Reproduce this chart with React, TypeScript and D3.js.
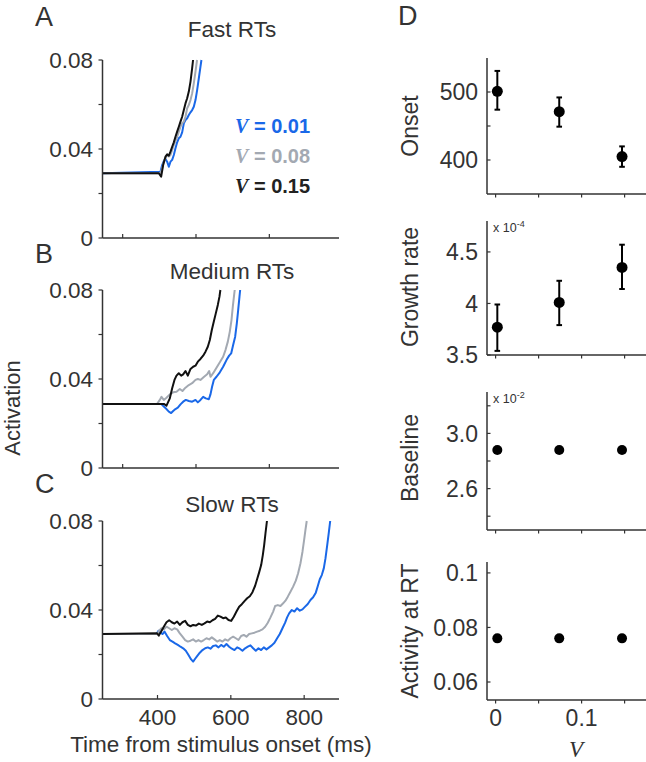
import React from 'react';
import * as d3 from 'd3';

type P = [number, number];

const BLUE = '#1a68e8';
const GRAY = '#a3a9b2';
const BLACK = '#111111';
const AX = '#333333';
const SANS = '"Liberation Sans", Arial, Helvetica, sans-serif';
const SERIF = '"Liberation Serif", "Times New Roman", serif';

// ---------- Panel A: Fast RTs ----------
const fastBlue: P[] = [[250,0.0291],[408.1,0.0298],[412.7,0.0328],[417.2,0.0346],[421.8,0.0355],[426.3,0.0343],[430.9,0.0320],[435.4,0.0343],[440,0.0351],[444.5,0.0373],[449,0.0403],[453.6,0.0430],[458.1,0.0448],[462.7,0.0455],[467.2,0.0475],[471.8,0.0515],[476.3,0.0530],[480.9,0.0538],[485.4,0.0553],[490,0.0565],[494.5,0.0575],[499,0.0590],[503.6,0.0620],[508.1,0.0665],[512.7,0.0718],[517.2,0.0770],[519.8,0.0800]];
const fastGray: P[] = [[250,0.0291],[408.1,0.0291],[412.7,0.0313],[417.2,0.0343],[421.8,0.0358],[426.3,0.0373],[430.9,0.0366],[435.4,0.0373],[440,0.0396],[444.5,0.0418],[449,0.0436],[453.6,0.0455],[458.1,0.0478],[462.7,0.0500],[467.2,0.0515],[471.8,0.0523],[476.3,0.0545],[480.9,0.0583],[485.4,0.0598],[490,0.0620],[494.5,0.0650],[499,0.0695],[503.6,0.0748],[507.8,0.0800]];
const fastBlack: P[] = [[250,0.0291],[403.6,0.0291],[410,0.0276],[415.4,0.0328],[421.8,0.0366],[426.3,0.0376],[430.9,0.0370],[435.4,0.0388],[440,0.0410],[444.5,0.0430],[449,0.0455],[453.6,0.0478],[458.1,0.0500],[462.7,0.0523],[467.2,0.0545],[471.8,0.0575],[476.3,0.0605],[480.9,0.0628],[485.4,0.0658],[490,0.0703],[494.5,0.0763],[497,0.0800]];

// ---------- Panel B: Medium RTs ----------
const medBlue: P[] = [[250,0.0288],[410,0.0288],[417.2,0.0276],[424.5,0.0265],[430.9,0.0253],[437.2,0.0247],[442.7,0.0256],[449,0.0265],[455.4,0.0271],[462.7,0.0286],[470,0.0298],[477.2,0.0306],[485.4,0.0301],[494.5,0.0298],[503.6,0.0306],[510,0.0295],[517.2,0.0306],[524.5,0.0320],[531.8,0.0313],[540,0.0309],[544.5,0.0331],[549,0.0366],[553.6,0.0396],[560.9,0.0410],[570,0.0430],[579,0.0455],[588.1,0.0485],[595.4,0.0505],[600.9,0.0515],[606.3,0.0553],[611.8,0.0590],[616.3,0.0650],[620,0.0710],[623.6,0.0770],[625.4,0.0800]];
const medGray: P[] = [[250,0.0288],[399,0.0288],[406.3,0.0306],[410.9,0.0320],[417.2,0.0306],[424.5,0.0316],[433.6,0.0331],[442.7,0.0340],[451.8,0.0343],[460.9,0.0355],[468.1,0.0346],[476.3,0.0361],[485.4,0.0373],[494.5,0.0381],[503.6,0.0396],[510,0.0400],[517.2,0.0396],[526.3,0.0409],[535.4,0.0421],[540.9,0.0436],[544.5,0.0410],[551.8,0.0426],[560.9,0.0451],[570,0.0475],[579,0.0500],[585.4,0.0530],[591.8,0.0568],[597.2,0.0613],[601.8,0.0665],[605.4,0.0725],[609,0.0778],[610.6,0.0800]];
const medBlack: P[] = [[250,0.0288],[417.2,0.0288],[424.5,0.0280],[433.6,0.0313],[440,0.0358],[446.3,0.0396],[451.8,0.0415],[458.1,0.0426],[464.5,0.0415],[470,0.0421],[476.3,0.0436],[482.7,0.0415],[490,0.0445],[497.2,0.0455],[503.6,0.0460],[510,0.0478],[517.2,0.0490],[524.5,0.0505],[530.9,0.0523],[537.2,0.0545],[542.7,0.0575],[548.1,0.0620],[553.6,0.0658],[559,0.0695],[564.5,0.0733],[569,0.0770],[571.5,0.0800]];

// ---------- Panel C: Slow RTs ----------
const slowBlue: P[] = [[250,0.0292],[397.2,0.0292],[402.7,0.0307],[408.1,0.0298],[413.6,0.0292],[419,0.0303],[426.3,0.0283],[433.6,0.0265],[440.8,0.0258],[448.1,0.0250],[455.4,0.0243],[462.7,0.0235],[470,0.0228],[477.2,0.0217],[484.5,0.0198],[491.7,0.0178],[497.2,0.0168],[502.7,0.0181],[508.1,0.0193],[515.4,0.0208],[522.7,0.0220],[530,0.0228],[537.2,0.0232],[544.5,0.0226],[551.7,0.0238],[559,0.0241],[566.3,0.0232],[573.5,0.0243],[580.8,0.0235],[588.1,0.0247],[595.4,0.0235],[602.7,0.0226],[609.9,0.0220],[617.2,0.0232],[624.5,0.0226],[631.7,0.0217],[639,0.0228],[646.3,0.0235],[653.5,0.0241],[660.8,0.0228],[668.1,0.0217],[675.4,0.0228],[682.6,0.0220],[689.9,0.0232],[697.2,0.0223],[704.5,0.0232],[711.7,0.0241],[719,0.0253],[726.3,0.0273],[733.5,0.0292],[740.8,0.0318],[748.1,0.0343],[753.5,0.0367],[759,0.0385],[766.3,0.0400],[773.5,0.0393],[780.8,0.0408],[788.1,0.0397],[795.4,0.0403],[802.6,0.0415],[809.9,0.0427],[817.2,0.0445],[824.4,0.0457],[831.7,0.0478],[837.2,0.0508],[842.6,0.0538],[848.1,0.0557],[853.5,0.0587],[858.1,0.0632],[862.6,0.0688],[867.2,0.0748],[871,0.0800]];
const slowGray: P[] = [[250,0.0292],[399,0.0292],[404.5,0.0307],[410.9,0.0318],[417.2,0.0313],[424.5,0.0325],[431.8,0.0318],[439,0.0310],[446.3,0.0318],[453.6,0.0313],[460.9,0.0295],[468.1,0.0280],[475.4,0.0265],[482.7,0.0258],[490,0.0262],[497.2,0.0268],[504.5,0.0258],[511.7,0.0265],[519,0.0258],[526.3,0.0265],[533.6,0.0273],[540.9,0.0268],[548.1,0.0277],[555.4,0.0268],[562.7,0.0258],[570,0.0265],[577.2,0.0258],[584.5,0.0268],[591.8,0.0262],[599,0.0273],[606.3,0.0280],[613.6,0.0273],[620.8,0.0265],[628.1,0.0283],[635.4,0.0288],[642.6,0.0280],[649.9,0.0292],[657.2,0.0295],[664.5,0.0298],[671.7,0.0303],[679,0.0307],[686.3,0.0313],[693.6,0.0325],[700.8,0.0343],[708.1,0.0367],[715.4,0.0393],[720.8,0.0418],[728.1,0.0422],[735.4,0.0418],[742.6,0.0430],[749,0.0442],[755.4,0.0460],[762.6,0.0482],[769.9,0.0505],[777.2,0.0532],[783.5,0.0565],[789.9,0.0610],[795.4,0.0662],[799.9,0.0715],[803.5,0.0760],[807,0.0800]];
const slowBlack: P[] = [[250,0.0292],[399,0.0295],[403.6,0.0285],[410,0.0303],[417.2,0.0325],[424.5,0.0345],[431.8,0.0354],[439,0.0345],[446.3,0.0339],[453.6,0.0348],[460.9,0.0333],[468.1,0.0345],[475.4,0.0351],[482.7,0.0333],[490,0.0327],[497.2,0.0333],[504.5,0.0330],[512.7,0.0339],[520.9,0.0333],[528.1,0.0340],[535.4,0.0348],[542.7,0.0345],[550,0.0354],[557.2,0.0360],[564.5,0.0375],[571.8,0.0370],[579,0.0363],[586.3,0.0366],[593.6,0.0355],[600.9,0.0351],[608.1,0.0370],[615.4,0.0393],[622.7,0.0415],[630,0.0426],[637.2,0.0440],[644.5,0.0453],[651.8,0.0462],[659,0.0480],[666.3,0.0509],[671.8,0.0539],[677.2,0.0569],[682.7,0.0602],[687.2,0.0647],[690.9,0.0692],[694.5,0.0745],[697.2,0.0782],[698.5,0.0800]];

// ---------- Panel D ----------
const vValues = [0.002, 0.074, 0.147];
const onsetMean = [501, 471, 405];
const onsetLo = [474, 449, 390];
const onsetHi = [531, 492, 420];
const growthMean = [3.77, 4.01, 4.35];
const growthLo = [3.54, 3.79, 4.14];
const growthHi = [3.99, 4.22, 4.57];
const baselineMean = [2.88, 2.88, 2.88];
const activityMean = [0.076, 0.076, 0.076];

const leftYTicks = [0, 0.02, 0.04, 0.06, 0.08];
const leftYLabels: Record<string, string> = { '0': '0', '0.04': '0.04', '0.08': '0.08' };
const abXTicks = [305, 505, 705];
const cXTicks = [400, 600, 800];
const rightXTicks = [0, 0.05, 0.1, 0.15];
const rightXLabels: Record<string, string> = { '0': '0', '0.1': '0.1' };
const legendItems = [
  { label: ' = 0.01', color: BLUE },
  { label: ' = 0.08', color: GRAY },
  { label: ' = 0.15', color: '#222222' },
];

const tScale = d3.scaleLinear().domain([250, 895]).range([102.5, 339]);
const vScaleX = d3.scaleLinear().domain([-0.01, 0.18]).range([487, 650.4]);

const leftPanels = [
  { letter: 'A', letterY: 26, title: 'Fast RTs', titleY: 37, top: 60, bottom: 238, xTicks: abXTicks, labels: false, lines: [fastBlue, fastGray, fastBlack] },
  { letter: 'B', letterY: 263, title: 'Medium RTs', titleY: 279, top: 290, bottom: 468, xTicks: abXTicks, labels: false, lines: [medBlue, medGray, medBlack] },
  { letter: 'C', letterY: 493, title: 'Slow RTs', titleY: 512, top: 521, bottom: 699, xTicks: cXTicks, labels: true, lines: [slowBlue, slowGray, slowBlack] },
];

type RP = {
  label: string; labelY: number; domain: [number, number]; range: [number, number];
  ticks: number[]; tickLabels: Record<string, string>;
  mean: number[]; lo?: number[]; hi?: number[]; exp?: string; r: number; xLabels?: boolean;
};

const rightPanels: RP[] = [
  { label: 'Onset', labelY: 126, domain: [350, 550], range: [194, 58], ticks: [400, 450, 500], tickLabels: { '400': '400', '500': '500' }, mean: onsetMean, lo: onsetLo, hi: onsetHi, r: 5.5 },
  { label: 'Growth rate', labelY: 287, domain: [3.5, 4.8], range: [355, 221], ticks: [3.5, 4, 4.5], tickLabels: { '3.5': '3.5', '4': '4', '4.5': '4.5' }, mean: growthMean, lo: growthLo, hi: growthHi, exp: '-4', r: 5.5 },
  { label: 'Baseline', labelY: 458, domain: [2.3, 3.3], range: [530, 392], ticks: [2.4, 2.6, 2.8, 3.0, 3.2], tickLabels: { '2.6': '2.6', '3': '3.0' }, mean: baselineMean, exp: '-2', r: 5 },
  { label: 'Activity at RT', labelY: 631, domain: [0.0534, 0.104], range: [700, 562], ticks: [0.06, 0.08, 0.1], tickLabels: { '0.06': '0.06', '0.08': '0.08', '0.1': '0.1' }, mean: activityMean, r: 5, xLabels: true },
];

const lineColors = [BLUE, GRAY, BLACK];

export default function App() {
  return (
    <svg width={646} height={762} style={{ position: 'absolute', left: 0, top: 0, background: '#fff' }} fontFamily={SANS}>
      <rect width={646} height={762} fill="#fff" />
      {leftPanels.map((p, pi) => {
        const y = d3.scaleLinear().domain([0, 0.08]).range([p.bottom, p.top]);
        const line = d3.line<P>().x(d => tScale(d[0])).y(d => y(d[1]));
        return (
          <g key={pi}>
            <text x={35} y={p.letterY} fontSize={27} fill={AX}>{p.letter}</text>
            <text x={232} y={p.titleY} fontSize={22.5} fill={AX} textAnchor="middle">{p.title}</text>
            {p.lines.map((ln, li) => (
              <path key={li} d={line(ln) || ''} fill="none" stroke={lineColors[li]} strokeWidth={2} strokeLinejoin="round" />
            ))}
            <line x1={tScale.range()[0]} x2={tScale.range()[0]} y1={p.top} y2={p.bottom} stroke={AX} strokeWidth={1.5} />
            <line x1={tScale.range()[0]} x2={tScale.range()[1]} y1={p.bottom} y2={p.bottom} stroke={AX} strokeWidth={1.5} />
            {leftYTicks.map(t => (
              <g key={t}>
                <line x1={tScale.range()[0] - 4} x2={tScale.range()[0]} y1={y(t)} y2={y(t)} stroke={AX} strokeWidth={1.2} />
                {leftYLabels[String(t)] && (
                  <text x={93} y={y(t)} dy="0.36em" fontSize={22.5} fill={AX} textAnchor="end">{leftYLabels[String(t)]}</text>
                )}
              </g>
            ))}
            {p.xTicks.map(t => (
              <g key={t}>
                <line x1={tScale(t)} x2={tScale(t)} y1={p.bottom} y2={p.bottom - 4} stroke={AX} strokeWidth={1.2} />
                {p.labels && (
                  <text x={tScale(t)} y={p.bottom + 26} fontSize={22.5} fill={AX} textAnchor="middle">{t}</text>
                )}
              </g>
            ))}
          </g>
        );
      })}
      {/* legend */}
      {legendItems.map((it, i) => (
        <text key={i} x={235} y={133 + i * 30} fontSize={20} fontWeight="bold" fill={it.color}>
          <tspan fontFamily={SERIF} fontStyle="italic">V</tspan>
          <tspan>{it.label}</tspan>
        </text>
      ))}
      <text transform="translate(20,408) rotate(-90)" fontSize={22} fill={AX} textAnchor="middle">Activation</text>
      <text x={221} y={752} fontSize={22.5} fill={AX} textAnchor="middle">Time from stimulus onset (ms)</text>

      {/* Panel D */}
      <text x={398} y={25} fontSize={27} fill={AX}>D</text>
      {rightPanels.map((p, pi) => {
        const y = d3.scaleLinear().domain(p.domain).range(p.range);
        const bottom = p.range[0];
        const top = p.range[1];
        const x0 = vScaleX.range()[0];
        return (
          <g key={pi}>
            <text transform={`translate(418,${p.labelY}) rotate(-90)`} fontSize={23} fill={AX} textAnchor="middle">{p.label}</text>
            <line x1={x0} x2={x0} y1={top} y2={bottom} stroke={AX} strokeWidth={1.5} />
            <line x1={x0} x2={vScaleX.range()[1]} y1={bottom} y2={bottom} stroke={AX} strokeWidth={1.5} />
            {p.ticks.map(t => {
              const key = String(t);
              return (
                <g key={key}>
                  <line x1={x0} x2={x0 + 3.5} y1={y(t)} y2={y(t)} stroke={AX} strokeWidth={1.2} />
                  {p.tickLabels[key] && (
                    <text x={478} y={y(t)} dy="0.36em" fontSize={23} fill={AX} textAnchor="end">{p.tickLabels[key]}</text>
                  )}
                </g>
              );
            })}
            {rightXTicks.map(t => (
              <g key={t}>
                <line x1={vScaleX(t)} x2={vScaleX(t)} y1={bottom} y2={bottom + 3.5} stroke={AX} strokeWidth={1.2} />
                {p.xLabels && rightXLabels[String(t)] && (
                  <text x={vScaleX(t)} y={bottom + 26} fontSize={23} fill={AX} textAnchor="middle">{rightXLabels[String(t)]}</text>
                )}
              </g>
            ))}
            {p.exp && (
              <text x={493} y={top + 11} fontSize={12.5} fill={AX}>
                x 10<tspan dy={-5} fontSize={9}>{p.exp}</tspan>
              </text>
            )}
            {p.mean.map((m, i) => (
              <g key={i}>
                {p.lo && p.hi && (
                  <g stroke="#000" strokeWidth={2}>
                    <line x1={vScaleX(vValues[i])} x2={vScaleX(vValues[i])} y1={y(p.lo[i])} y2={y(p.hi[i])} />
                    <line x1={vScaleX(vValues[i]) - 2.8} x2={vScaleX(vValues[i]) + 2.8} y1={y(p.lo[i])} y2={y(p.lo[i])} />
                    <line x1={vScaleX(vValues[i]) - 2.8} x2={vScaleX(vValues[i]) + 2.8} y1={y(p.hi[i])} y2={y(p.hi[i])} />
                  </g>
                )}
                <circle cx={vScaleX(vValues[i])} cy={y(m)} r={p.r} fill="#000" />
              </g>
            ))}
          </g>
        );
      })}
      <text x={576} y={757} fontSize={23} fontFamily={SERIF} fontStyle="italic" fill={AX} textAnchor="middle">V</text>
    </svg>
  );
}
